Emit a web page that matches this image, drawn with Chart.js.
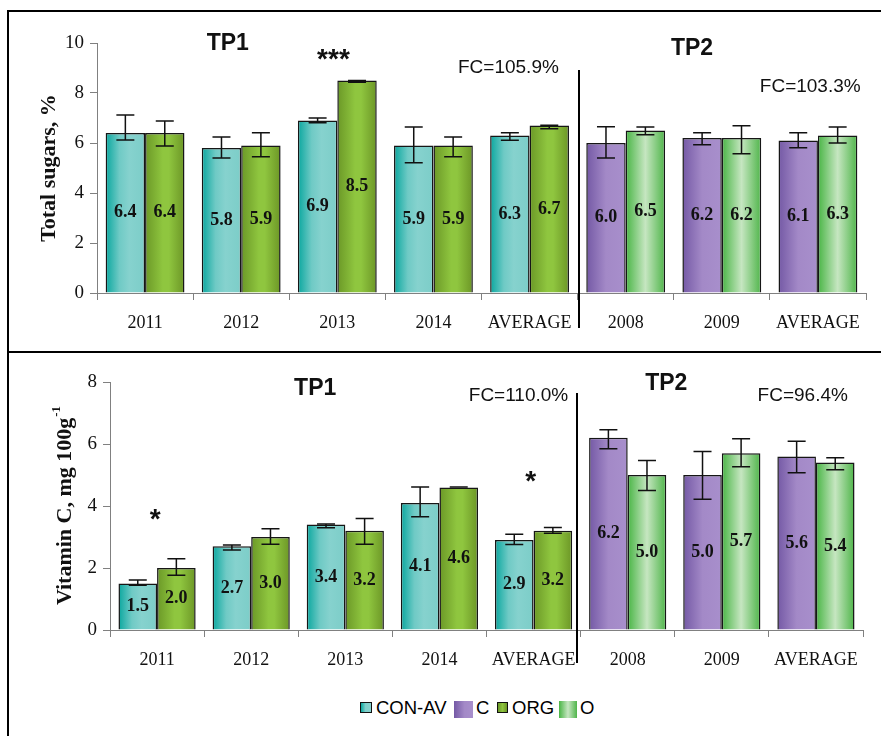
<!DOCTYPE html>
<html>
<head>
<meta charset="utf-8">
<title>Total sugars and vitamin C</title>
<script src="https://cdn.jsdelivr.net/npm/chart.js@4.4.1/dist/chart.umd.min.js"></script>
<style>
  html, body { margin: 0; padding: 0; background: #fff; }
  #wrap { position: relative; width: 881px; height: 736px; overflow: hidden; background: #fff; }
  #wrap canvas { position: absolute; left: 0; }
  .rule { position: absolute; background: #000; }
  .lg { position: absolute; font: 18.5px "Liberation Sans", Arial, sans-serif; line-height: 20px; color: #000; white-space: nowrap; }
  .sw { position: absolute; box-sizing: border-box; }
</style>
</head>
<body>
<div id="wrap">
  <canvas id="sugar" width="881" height="350" style="top:0"></canvas>
  <canvas id="vitc" width="881" height="337" style="top:350px"></canvas>

  <!-- frame and panel separators -->
  <div class="rule" style="left:7px;top:10px;width:2px;height:726px"></div>
  <div class="rule" style="left:7px;top:10px;width:874px;height:2px"></div>
  <div class="rule" style="left:7px;top:351px;width:874px;height:2px"></div>
  <div class="rule" style="left:578px;top:70px;width:2px;height:258px"></div>
  <div class="rule" style="left:576px;top:393px;width:2px;height:270px"></div>

  <!-- legend -->
  <div class="sw" style="left:360px;top:702px;width:12px;height:11px;border:1.5px solid #111;background:linear-gradient(to right,#0aa79f,#7fd0cb 45%,#86d2ce)"></div>
  <div class="lg" style="left:376px;top:698px">CON-AV</div>
  <div class="sw" style="left:454px;top:701px;width:19px;height:17px;background:linear-gradient(to right,#7459a5,#a389c7 55%,#a88fcc)"></div>
  <div class="lg" style="left:476px;top:698px">C</div>
  <div class="sw" style="left:497px;top:702px;width:11px;height:11px;border:1.5px solid #111;background:linear-gradient(to right,#6b9827,#8fc63f 50%,#6c9626)"></div>
  <div class="lg" style="left:512px;top:698px">ORG</div>
  <div class="sw" style="left:559px;top:701px;width:18px;height:17px;background:linear-gradient(to right,#49b545,#c6e6c1 50%,#4fb54a)"></div>
  <div class="lg" style="left:580px;top:698px">O</div>
</div>

<script>
// Categories: four TP1 years + average, then two TP2 years + average
const categories = ['2011', '2012', '2013', '2014', 'AVERAGE', '2008', '2009', 'AVERAGE'];
const tp1Count = 5;

// Total sugars, % — conventional (CON-AV / C) and organic (ORG / O)
const sugarConv   = [6.4, 5.8, 6.9, 5.9, 6.3, 6.0, 6.2, 6.1];
const sugarConvHi = [7.12, 6.24, 7.00, 6.64, 6.41, 6.65, 6.41, 6.41];
const sugarConvLo = [6.12, 5.40, 6.81, 5.21, 6.11, 5.40, 5.93, 5.81];
const sugarOrg    = [6.4, 5.9, 8.5, 5.9, 6.7, 6.5, 6.2, 6.3];
const sugarOrgHi  = [6.88, 6.41, 8.50, 6.24, 6.71, 6.64, 6.69, 6.64];
const sugarOrgLo  = [5.88, 5.45, 8.43, 5.45, 6.57, 6.33, 5.57, 6.00];
const sugarTicks  = [0, 2, 4, 6, 8, 10];

// Vitamin C, mg 100 g-1
const vitcConv   = [1.5, 2.7, 3.4, 4.1, 2.9, 6.2, 5.0, 5.6];
const vitcConvHi = [1.61, 2.74, 3.42, 4.61, 3.09, 6.46, 5.76, 6.09];
const vitcConvLo = [1.44, 2.58, 3.30, 3.65, 2.76, 5.85, 4.22, 5.07];
const vitcOrg    = [2.0, 3.0, 3.2, 4.6, 3.2, 5.0, 5.7, 5.4];
const vitcOrgHi  = [2.30, 3.27, 3.60, 4.61, 3.31, 5.47, 6.17, 5.56];
const vitcOrgLo  = [1.77, 2.77, 2.77, 4.61, 3.12, 4.50, 5.27, 5.17];
const vitcTicks  = [0, 2, 4, 6, 8];

// Bar fills: horizontal shading per treatment
const palettes = {
  conav: [[0, '#0aa79f'], [0.35, '#6fcac5'], [0.6, '#86d2ce'], [1, '#7ccdc8']],
  org:   [[0, '#6b9827'], [0.45, '#8fc63f'], [0.6, '#8fc63f'], [1, '#6c9626']],
  c:     [[0, '#7459a5'], [0.5, '#a389c7'], [1, '#a88fcc']],
  o:     [[0, '#49b545'], [0.5, '#c6e6c1'], [1, '#4fb54a']]
};

const SERIF = '"Liberation Serif", "Times New Roman", serif';
const SANS = '"Liberation Sans", Arial, sans-serif';

// give each bar its own shaded fill, spanning the bar's own width
const barFills = {
  id: 'barFills',
  beforeDatasetsDraw(chart) {
    const ctx = chart.ctx;
    chart.data.datasets.forEach((ds, d) => {
      chart.getDatasetMeta(d).data.forEach((el, i) => {
        const key = d === 0 ? (i < tp1Count ? 'conav' : 'c') : (i < tp1Count ? 'org' : 'o');
        const g = ctx.createLinearGradient(el.x - el.width / 2, 0, el.x + el.width / 2, 0);
        palettes[key].forEach(([s, c]) => g.addColorStop(s, c));
        el.options = Object.assign({}, el.options, { backgroundColor: g });
      });
    });
  }
};

const errorBars = {
  id: 'errorBars',
  afterDatasetsDraw(chart) {
    const ctx = chart.ctx, y = chart.scales.y;
    ctx.save();
    ctx.strokeStyle = '#111';
    ctx.lineWidth = 1.5;
    chart.data.datasets.forEach((ds, d) => {
      chart.getDatasetMeta(d).data.forEach((el, i) => {
        const yh = y.getPixelForValue(ds.errHi[i]);
        const yl = y.getPixelForValue(ds.errLo[i]);
        const x = el.x, cap = 9;
        ctx.beginPath();
        ctx.moveTo(x, yh); ctx.lineTo(x, yl);
        ctx.moveTo(x - cap, yh); ctx.lineTo(x + cap, yh);
        ctx.moveTo(x - cap, yl); ctx.lineTo(x + cap, yl);
        ctx.stroke();
      });
    });
    ctx.restore();
  }
};

const valueLabels = {
  id: 'valueLabels',
  afterDatasetsDraw(chart) {
    const ctx = chart.ctx;
    ctx.save();
    ctx.font = 'bold 18px ' + SERIF;
    ctx.fillStyle = '#111';
    ctx.textAlign = 'center';
    ctx.textBaseline = 'middle';
    chart.data.datasets.forEach((ds, d) => {
      chart.getDatasetMeta(d).data.forEach((el, i) => {
        ctx.fillText(ds.data[i].toFixed(1), el.x, (el.y + el.base) / 2);
      });
    });
    ctx.restore();
  }
};

const notes = {
  id: 'notes',
  afterDraw(chart, args, opts) {
    const ctx = chart.ctx, xs = chart.scales.x, ys = chart.scales.y;
    ctx.save();
    ctx.textAlign = 'center';
    ctx.textBaseline = 'middle';
    ctx.fillStyle = '#111';
    (opts.items || []).forEach(n => {
      ctx.font = n.font;
      ctx.fillText(n.text, xs.getPixelForValue(n.at), ys.getPixelForValue(n.v));
    });
    // rotated y-axis title, with optional superscript
    const t = opts.title;
    if (t) {
      const cy = (chart.chartArea.top + chart.chartArea.bottom) / 2;
      ctx.translate(chart.chartArea.left - t.dx, cy);
      ctx.rotate(-Math.PI / 2);
      ctx.font = 'bold 22px ' + SERIF;
      const w1 = ctx.measureText(t.text).width;
      let w2 = 0;
      if (t.sup) { ctx.font = 'bold 13px ' + SERIF; w2 = ctx.measureText(t.sup).width; }
      const x0 = -(w1 + w2) / 2;
      ctx.textAlign = 'left';
      ctx.font = 'bold 22px ' + SERIF;
      ctx.fillText(t.text, x0, 0);
      if (t.sup) { ctx.font = 'bold 13px ' + SERIF; ctx.fillText(t.sup, x0 + w1 + 1, -8); }
    }
    ctx.restore();
  }
};

function makeChart(id, conv, convHi, convLo, org, orgHi, orgLo, ticks, axisW, pad, items, title) {
  const barStyle = {
    categoryPercentage: 0.82,
    barPercentage: 1.0,
    borderColor: '#161616',
    borderWidth: 1.5,
    backgroundColor: '#999999'
  };
  return new Chart(document.getElementById(id), {
    type: 'bar',
    data: {
      labels: categories,
      datasets: [
        Object.assign({ label: 'Conventional', data: conv, errHi: convHi, errLo: convLo }, barStyle),
        Object.assign({ label: 'Organic', data: org, errHi: orgHi, errLo: orgLo }, barStyle)
      ]
    },
    options: {
      responsive: false,
      animation: false,
      devicePixelRatio: 1,
      layout: { padding: pad },
      plugins: {
        colors: { enabled: false },
        legend: { display: false },
        tooltip: { enabled: false },
        notes: { items: items, title: title }
      },
      scales: {
        x: {
          offset: true,
          grid: { offset: true, drawOnChartArea: false, drawTicks: true, tickLength: 7, color: '#808080', lineWidth: 1 },
          border: { display: true, color: '#808080', width: 1 },
          ticks: { font: { family: SERIF, size: 18 }, color: '#111', padding: 12, maxRotation: 0, autoSkip: false },
          afterFit: s => { s.height = 57; }
        },
        y: {
          min: ticks[0],
          max: ticks[ticks.length - 1],
          afterBuildTicks: s => { s.ticks = ticks.map(v => ({ value: v })); },
          grid: { drawOnChartArea: false, drawTicks: true, tickLength: 7, color: '#808080', lineWidth: 1 },
          border: { display: true, color: '#808080', width: 1 },
          ticks: { font: { family: SERIF, size: 19 }, color: '#111', padding: 6 },
          afterFit: s => { s.width = axisW; }
        }
      }
    },
    plugins: [barFills, errorBars, valueLabels, notes]
  });
}

const tp1Font = 'bold 23px ' + SANS;
const fcFont = '19px ' + SANS;
const starFont = 'bold 28px ' + SANS;

makeChart('sugar', sugarConv, sugarConvHi, sugarConvLo, sugarOrg, sugarOrgHi, sugarOrgLo, sugarTicks,
  97, { top: 43, right: 15, bottom: 0, left: 0 },
  [
    { text: 'TP1', at: 0.86, v: 9.96, font: tp1Font },
    { text: '***', at: 1.96, v: 9.29, font: starFont },
    { text: 'FC=105.9%', at: 3.78, v: 8.99, font: fcFont },
    { text: 'TP2', at: 5.69, v: 9.76, font: tp1Font },
    { text: 'FC=103.3%', at: 6.92, v: 8.25, font: fcFont }
  ],
  { text: 'Total sugars, %', dx: 48 });

makeChart('vitc', vitcConv, vitcConvHi, vitcConvLo, vitcOrg, vitcOrgHi, vitcOrgLo, vitcTicks,
  110, { top: 32, right: 18, bottom: 0, left: 0 },
  [
    { text: 'TP1', at: 1.68, v: 7.77, font: tp1Font },
    { text: 'TP2', at: 5.41, v: 7.94, font: tp1Font },
    { text: 'FC=110.0%', at: 3.84, v: 7.56, font: fcFont },
    { text: 'FC=96.4%', at: 6.86, v: 7.56, font: fcFont },
    { text: '*', at: -0.02, v: 3.53, font: starFont },
    { text: '*', at: 3.97, v: 4.75, font: starFont }
  ],
  { text: 'Vitamin C, mg 100g', sup: '-1', dx: 45 });
</script>
</body>
</html>
